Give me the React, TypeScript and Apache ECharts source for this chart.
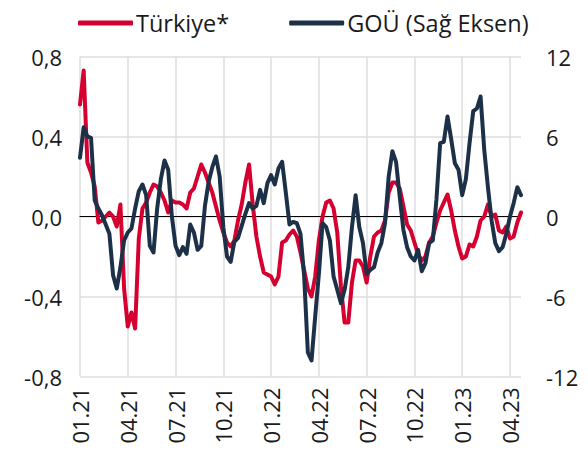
import React, { useEffect, useRef } from "react";
import * as echarts from "echarts";

const quarterLabels = ["01.21", "04.21", "07.21", "10.21", "01.22", "04.22", "07.22", "10.22", "01.23", "04.23"];
const weeksPerQuarter = 13;

const turkiye = [
  0.56, 0.73, 0.27, 0.22, 0.15, -0.03, -0.02, 0.0, 0.02, 0.0,
  -0.05, 0.06, -0.36, -0.55, -0.48, -0.56, -0.11, 0.04, 0.07, 0.12,
  0.16, 0.15, 0.12, 0.08, 0.02, 0.08, 0.07, 0.07, 0.06, 0.04,
  0.12, 0.14, 0.2, 0.26, 0.22, 0.17, 0.12, 0.05, -0.02, -0.08,
  -0.13, -0.15, -0.12, -0.02, 0.06, 0.17, 0.26, 0.06, -0.1, -0.2,
  -0.28, -0.29, -0.3, -0.34, -0.3, -0.13, -0.12, -0.09, -0.07, -0.1,
  -0.18, -0.27, -0.36, -0.4, -0.3, -0.12, 0.0, 0.07, 0.08, 0.04,
  -0.08, -0.35, -0.53, -0.53, -0.33, -0.22, -0.22, -0.25, -0.33, -0.2,
  -0.1, -0.08, -0.07, -0.02, 0.12, 0.17, 0.17, 0.14, 0.05, -0.04,
  -0.07, -0.13, -0.19, -0.22, -0.2, -0.13, -0.1, -0.03, 0.03, 0.07,
  0.11, 0.03, -0.07, -0.15, -0.21, -0.2, -0.14, -0.15, -0.1, -0.02,
  0.0, 0.06, 0.0, 0.01, -0.07, -0.08, -0.05, -0.11, -0.1, -0.03,
  0.02,
];

const gou = [
  4.4, 6.7, 6.0, 5.9, 1.2, 0.6, 0.1, -0.6, -1.3, -4.4,
  -5.4, -3.8, -1.8, -1.2, -0.9, 0.6, 1.9, 2.4, 1.6, -2.2,
  -2.7, 0.6, 2.8, 4.2, 3.5, 0.0, -2.2, -2.9, -2.3, -2.8,
  -0.6, -1.2, -2.5, -2.2, 0.8, 2.6, 3.7, 4.5, 3.0, -0.8,
  -3.0, -3.4, -1.9, -1.6, -0.7, 0.2, 1.0, 0.6, 0.8, 2.0,
  1.0, 2.5, 3.1, 2.4, 3.6, 4.1, 1.8, -0.6, -0.4, -0.5,
  -1.3, -4.5, -10.2, -10.8, -7.5, -4.3, -0.5, -0.8, -1.8, -4.5,
  -5.5, -6.5, -5.5, -3.8, -0.8, 1.6, -0.8, -2.0, -4.3, -4.0,
  -3.8, -2.7, -2.0, -0.5, 3.0, 4.9, 4.1, 1.5, -1.0, -2.3,
  -3.0, -3.3, -2.5, -4.1, -3.5, -2.0, -1.8, 1.3, 5.5, 5.6,
  7.5, 5.8, 4.0, 3.5, 1.6, 2.8, 5.5, 7.9, 8.1, 9.0,
  5.0, 2.2, -0.3, -2.0, -2.6, -2.3, -1.3, 0.0, 1.0, 2.2,
  1.6,
];

const weeks = turkiye.map((_, i) => String(i));

const FONT = "Open Sans";
const TEXT = "#1a1a1a";
const RED = "#D5002F";
const NAVY = "#1C3148";
const GRID = "#dedede";

export default function App() {
  const ref = useRef<HTMLDivElement>(null);
  useEffect(() => {
    if (!ref.current) return;
    const chart = echarts.init(ref.current, null, { renderer: "svg" });
    chart.setOption({
      animation: false,
      backgroundColor: "#ffffff",
      textStyle: { fontFamily: FONT },
      legend: {
        left: 73,
        top: 6,
        itemWidth: 55,
        itemHeight: 5,
        itemGap: 60,
        icon: "roundRect",
        textStyle: { fontFamily: FONT, fontSize: 23.5, color: TEXT, padding: [0, 0, 0, -2] },
        data: ["Türkiye*", "GOÜ (Sağ Eksen)"],
      },
      grid: { left: 80, right: 67, top: 56.5, bottom: 82.5, containLabel: false },
      xAxis: {
        type: "category",
        data: weeks,
        boundaryGap: false,
        axisLine: { show: true, onZero: true, lineStyle: { color: "#000", width: 1 } },
        axisTick: { show: false },
        splitLine: {
          show: true,
          interval: weeksPerQuarter - 1,
          lineStyle: { color: GRID, width: 1.5 },
        },
        axisLabel: {
          interval: weeksPerQuarter - 1,
          rotate: 90,
          margin: 11,
          fontFamily: FONT,
          fontSize: 22,
          color: TEXT,
          formatter: (_v: string, idx: number) =>
            idx % weeksPerQuarter === 0 ? quarterLabels[idx / weeksPerQuarter] ?? "" : "",
        },
      },
      yAxis: [
        {
          type: "value",
          min: -0.8,
          max: 0.8,
          interval: 0.4,
          position: "left",
          axisLine: { show: false },
          axisTick: { show: false },
          splitLine: { show: true, lineStyle: { color: GRID, width: 1.5 } },
          axisLabel: {
            margin: 18,
            fontFamily: FONT,
            fontSize: 22,
            color: TEXT,
            formatter: (v: number) => v.toFixed(1).replace(".", ","),
          },
        },
        {
          type: "value",
          min: -12,
          max: 12,
          interval: 6,
          position: "right",
          axisLine: { show: false },
          axisTick: { show: false },
          splitLine: { show: false },
          axisLabel: {
            margin: 25,
            fontFamily: FONT,
            fontSize: 22,
            color: TEXT,
          },
        },
      ],
      series: [
        {
          name: "Türkiye*",
          type: "line",
          yAxisIndex: 0,
          data: turkiye,
          showSymbol: false,
          symbol: "none",
          lineStyle: { color: RED, width: 4, cap: "round", join: "round" },
          itemStyle: { color: RED },
        },
        {
          name: "GOÜ (Sağ Eksen)",
          type: "line",
          yAxisIndex: 1,
          data: gou,
          showSymbol: false,
          symbol: "none",
          lineStyle: { color: NAVY, width: 4, cap: "round", join: "round" },
          itemStyle: { color: NAVY },
        },
      ],
    });
    return () => chart.dispose();
  }, []);
  return (
    <div
      ref={ref}
      style={{ position: "absolute", left: 0, top: 0, width: 588, height: 459 }}
    />
  );
}
